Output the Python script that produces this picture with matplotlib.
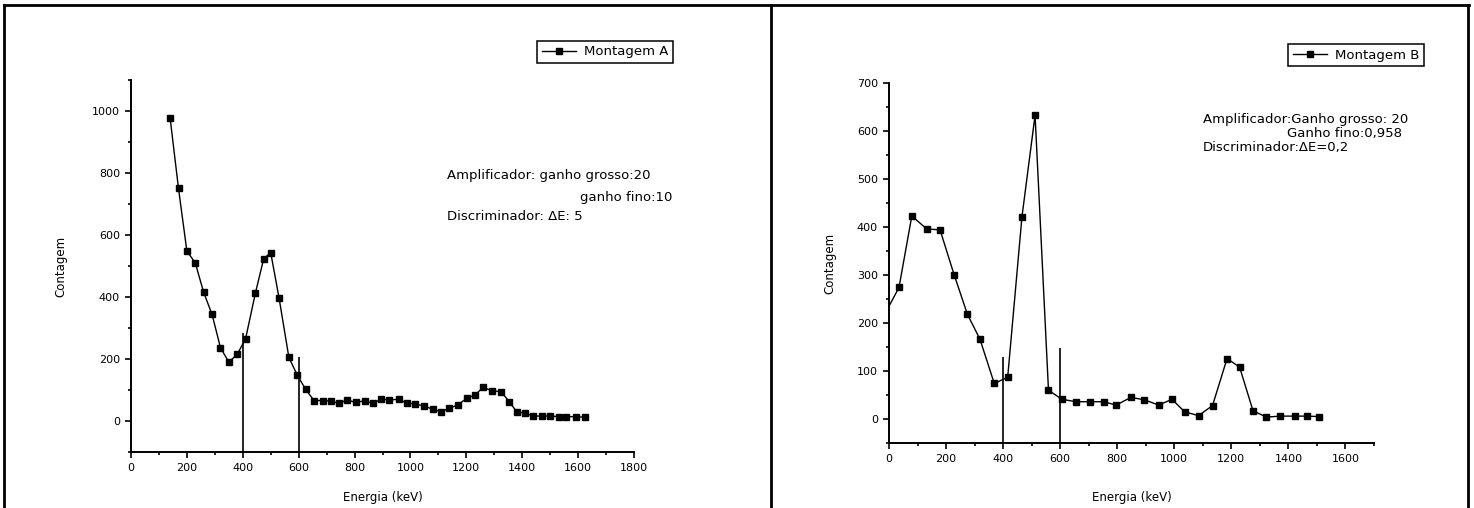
import matplotlib.pyplot as plt
from matplotlib.lines import Line2D
from matplotlib.ticker import MultipleLocator

plt.rcParams['font.family'] = ['DejaVu Sans']

# Montagem A (energia em keV, contagens)
energia_a = [140, 170, 200, 230, 260, 290, 320, 350, 380, 410, 445, 475, 500, 530,
             565, 595, 625, 655, 687, 717, 744, 774, 804, 836, 866, 895, 925, 958,
             988, 1018, 1050, 1080, 1110, 1139, 1170, 1201, 1231, 1261, 1291, 1324,
             1354, 1380, 1411, 1439, 1469, 1499, 1532, 1558, 1592, 1625]
contagem_a = [977, 750, 548, 510, 415, 344, 237, 190, 215, 265, 412, 524, 543, 396,
              205, 148, 102, 66, 66, 64, 57, 68, 60, 65, 57, 70, 68, 70,
              57, 55, 48, 38, 30, 41, 52, 73, 84, 109, 97, 95,
              62, 30, 25, 16, 16, 16, 14, 14, 14, 12]

# Montagem B
energia_b = [0, 35, 80, 132, 179, 228, 275, 319, 369, 416, 466, 512, 559, 606, 656,
             705, 752, 796, 848, 895, 945, 992, 1036, 1085, 1134, 1185, 1229, 1276,
             1323, 1372, 1422, 1465, 1508]
contagem_b = [235, 274, 423, 396, 394, 301, 218, 166, 74, 87, 421, 633, 60, 41, 36,
              36, 36, 29, 45, 40, 29, 41, 15, 7, 28, 126, 108, 17,
              4, 6, 6, 6, 5]

# janela do discriminador (limites em keV e altura das marcas)
janela_x = [400, 600]
janela_topo_a = [285, 207]
janela_topo_b = [130, 147]

W, H = 1474, 508
fig = plt.figure(figsize=(W / 100, H / 100), dpi=100)


def eixo_px(x0, y0, x1, y1):
    return fig.add_axes([x0 / W, 1 - y1 / H, (x1 - x0) / W, (y1 - y0) / H])


def estilo(ax, xlim, ylim, ymaj, ymin):
    ax.set_xlim(xlim)
    ax.set_ylim(ylim)
    ax.spines['top'].set_visible(False)
    ax.spines['right'].set_visible(False)
    ax.spines['left'].set_linewidth(1.4)
    ax.spines['bottom'].set_linewidth(1.4)
    ax.xaxis.set_major_locator(MultipleLocator(200))
    ax.xaxis.set_minor_locator(MultipleLocator(100))
    ax.yaxis.set_major_locator(MultipleLocator(ymaj))
    ax.yaxis.set_minor_locator(MultipleLocator(ymin))
    ax.tick_params(which='major', direction='out', length=4, width=1.2,
                   labelsize=8, pad=4)
    ax.tick_params(which='minor', direction='out', length=2.5, width=1.2)
    ax.set_xlabel('Energia (keV)', fontsize=8.5)
    ax.set_ylabel('Contagem', fontsize=8.5)


def texto_px(x, y, s, **kw):
    fig.text(x / W, 1 - y / H, s, fontsize=9.5, va='center', **kw)


# painel A
ax_a = eixo_px(131, 80, 634, 452)
ax_a.plot(energia_a, contagem_a, '-', color='k', lw=1,
          marker='s', ms=5, mfc='k', mec='k')
ax_a.vlines(janela_x, -100, janela_topo_a, color='k', lw=1.2)
estilo(ax_a, (0, 1800), (-100, 1100), 200, 100)
ax_a.yaxis.set_label_coords(-0.127, 0.5)
ax_a.xaxis.set_label_coords(0.5, -0.105)

texto_px(447, 175, 'Amplificador: ganho grosso:20')
texto_px(672, 197, 'ganho fino:10', ha='right')
texto_px(447, 217, 'Discriminador: \u0394E: 5')

# painel B
ax_b = eixo_px(889, 83, 1374, 443)
ax_b.plot(energia_b, contagem_b, '-', color='k', lw=1,
          marker='s', ms=5, mfc='k', mec='k',
          markevery=list(range(1, len(energia_b))))
ax_b.vlines(janela_x, -50, janela_topo_b, color='k', lw=1.2)
estilo(ax_b, (0, 1700), (-50, 700), 100, 50)
ax_b.yaxis.set_label_coords(-0.108, 0.5)
ax_b.xaxis.set_label_coords(0.5, -0.133)

texto_px(1203, 119, 'Amplificador:Ganho grosso: 20')
texto_px(1287, 134, 'Ganho fino:0,958')
texto_px(1203, 148, 'Discriminador:\u0394E=0,2')

# legendas
for nome, cx, cy in [('Montagem A', 605, 52), ('Montagem B', 1356, 55)]:
    h = Line2D([], [], color='k', lw=1, marker='s', ms=4.5, mfc='k', mec='k')
    leg = fig.legend([h], [nome], loc='center', bbox_to_anchor=(cx / W, 1 - cy / H),
                     frameon=True, fancybox=False, edgecolor='k', framealpha=1,
                     fontsize=9.5, handlelength=2.6, borderpad=0.35,
                     handletextpad=0.6)
    leg.get_frame().set_linewidth(1.1)

# moldura da tabela
for xs, ys in [([4, 1469], [5, 5]), ([4, 4], [5, 508]),
               ([771, 771], [5, 508]), ([1468, 1468], [5, 508])]:
    fig.add_artist(Line2D([x / W for x in xs], [1 - y / H for y in ys],
                          transform=fig.transFigure, color='k', lw=2))

fig.savefig('out.png', dpi=100)
